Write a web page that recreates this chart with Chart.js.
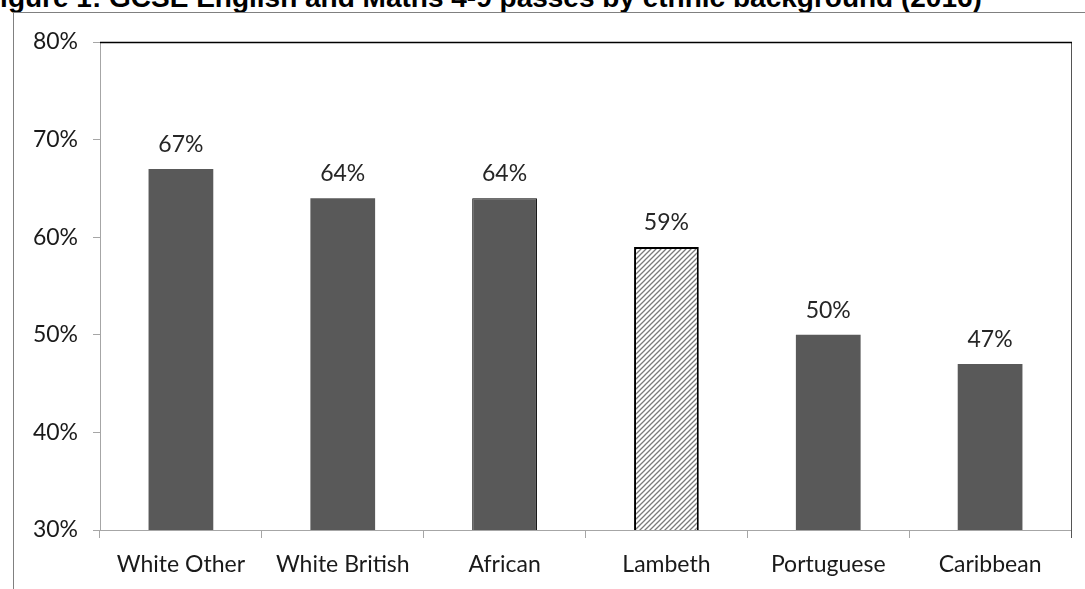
<!DOCTYPE html>
<html>
<head>
<meta charset="utf-8">
<script src="https://cdn.jsdelivr.net/npm/chart.js@4"></script>
<style>
  html, body { margin: 0; padding: 0; background: #fff; overflow: hidden; }
  body { width: 1085px; height: 589px; position: relative; }
  #title {
    position: absolute; left: -17px; top: -16px; white-space: nowrap;
    font: bold 28px "Liberation Sans", Arial, sans-serif; line-height: 28px; color: #000;
  }
  #frame {
    position: absolute; left: 13px; top: 12px; right: -2px; bottom: -2px;
    border-left: 1px solid #808080; border-top: 1px solid #808080;
  }
  #chart { position: absolute; left: 0; top: 0; }
</style>
</head>
<body>
<div id="title">Figure 1: GCSE English and Maths 4-9 passes by ethnic background (2016)</div>
<div id="frame"></div>
<canvas id="chart" width="1085" height="589"></canvas>
<script>
// data
const categories = ['White Other', 'White British', 'African', 'Lambeth', 'Portuguese', 'Caribbean'];
const passRates = [67, 64, 64, 59, 50, 47];
const yTicks = [30, 40, 50, 60, 70, 80];

// diagonal hatch for the Lambeth bar
function hatch() {
  const c = document.createElement('canvas');
  c.width = 5; c.height = 5;
  const g = c.getContext('2d');
  g.fillStyle = '#fff';
  g.fillRect(0, 0, 5, 5);
  g.strokeStyle = '#7a7a7a';
  g.lineWidth = 1.3;
  g.beginPath();
  g.moveTo(-1, 6); g.lineTo(6, -1);
  g.moveTo(-1, 1); g.lineTo(1, -1);
  g.moveTo(4, 6); g.lineTo(6, 4);
  g.stroke();
  return g.createPattern(c, 'repeat');
}

const labelFont = { family: 'Lato, "Open Sans", sans-serif', size: 23 };

// value labels above bars
const valueLabels = {
  id: 'valueLabels',
  afterDatasetsDraw(chart) {
    const ctx = chart.ctx;
    const meta = chart.getDatasetMeta(0);
    ctx.save();
    ctx.font = labelFont.size + 'px ' + labelFont.family;
    ctx.fillStyle = '#262626';
    ctx.textAlign = 'center';
    ctx.textBaseline = 'bottom';
    meta.data.forEach((bar, i) => {
      ctx.fillText(passRates[i] + '%', bar.x, bar.y - 13);
    });
    ctx.restore();
  }
};

// top and right edges of the plot area
const plotFrame = {
  id: 'plotFrame',
  afterDraw(chart) {
    const a = chart.chartArea;
    const ctx = chart.ctx;
    ctx.save();
    ctx.lineWidth = 1;
    ctx.strokeStyle = '#555';
    ctx.beginPath();
    ctx.moveTo(a.right + 0.5, a.top);
    ctx.lineTo(a.right + 0.5, a.bottom + 8);
    ctx.stroke();
    ctx.strokeStyle = '#000';
    ctx.lineWidth = 1.5;
    ctx.beginPath();
    ctx.moveTo(a.left, a.top + 0.5);
    ctx.lineTo(a.right + 1, a.top + 0.5);
    ctx.stroke();
    ctx.restore();
  }
};

const barColors = passRates.map((v, i) => categories[i] === 'Lambeth' ? hatch() : '#595959');
const borderColors = categories.map(c => (c === 'Lambeth' || c === 'African') ? '#000' : 'rgba(0,0,0,0)');
const borderWidths = categories.map(c => c === 'Lambeth' ? 2 : (c === 'African' ? 1 : 0));

new Chart(document.getElementById('chart'), {
  type: 'bar',
  data: {
    labels: categories,
    datasets: [{
      data: passRates,
      backgroundColor: barColors,
      borderColor: borderColors,
      borderWidth: borderWidths,
      borderSkipped: false,
      categoryPercentage: 1,
      barPercentage: 0.4
    }]
  },
  options: {
    responsive: false,
    animation: false,
    devicePixelRatio: 1,
    layout: { padding: { top: 42, right: 14, bottom: 0, left: 0 } },
    plugins: { legend: { display: false }, tooltip: { enabled: false } },
    scales: {
      x: {
        afterFit(s) { s.height = 59; },
        grid: { drawOnChartArea: false, drawTicks: true, tickLength: 8, color: '#a6a6a6' },
        border: { color: '#a6a6a6', width: 1 },
        ticks: { color: '#1a1a1a', font: labelFont, padding: 13 }
      },
      y: {
        min: 30, max: 80,
        afterFit(s) { s.width = 100; },
        afterBuildTicks(s) { s.ticks = yTicks.map(v => ({ value: v })); },
        grid: { drawOnChartArea: false, drawTicks: true, tickLength: 7, color: '#a6a6a6' },
        border: { color: '#a6a6a6', width: 1 },
        ticks: { color: '#1a1a1a', font: labelFont, padding: 15, callback: v => v + '%' }
      }
    }
  },
  plugins: [valueLabels, plotFrame]
});
</script>
</body>
</html>
